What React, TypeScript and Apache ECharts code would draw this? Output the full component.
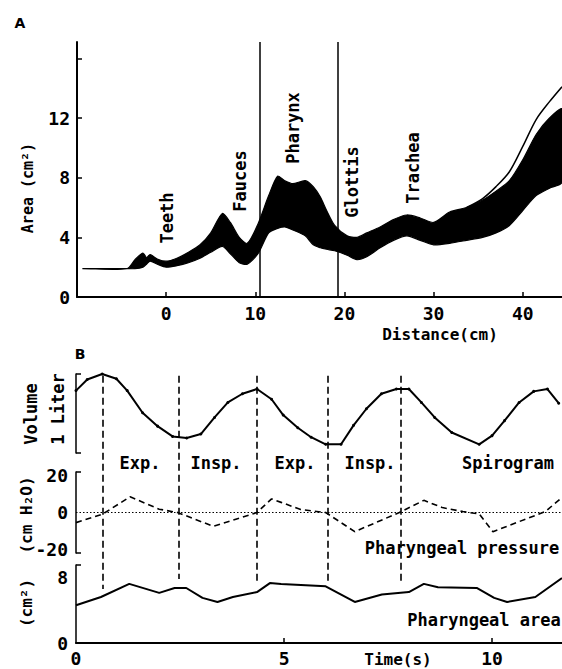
import React, { useEffect, useRef } from "react";
import * as echarts from "echarts";

// ---------- Panel A: cross-sectional area along the airway ----------
const distanceCm = [-9.4, -4.4, -3.5, -2.6, -2.2, -1.8, -1, 0, 1.2, 2.5, 3.8, 5, 6.3, 7.2, 8.2, 9.1, 10.3, 11.5, 12.5, 13.3, 14.2, 15.6, 16.5, 17.3, 18, 18.9, 20.3, 21.4, 22.5, 24, 25.5, 27, 28.5, 30, 31.8, 33.7, 35.5, 37, 38.5, 40, 41.5, 43, 44.4];
const areaUpper = [1.9, 1.9, 2.5, 2.95, 2.65, 2.85, 2.55, 2.4, 2.6, 3.0, 3.5, 4.3, 5.6, 5.0, 4.0, 3.6, 4.9, 6.8, 8.1, 7.8, 7.6, 7.8, 7.4, 6.7, 5.8, 4.8, 4.1, 4.0, 4.3, 4.7, 5.2, 5.5, 5.3, 5.0, 5.7, 6.0, 6.5, 7.1, 7.8, 9.2, 10.9, 12.0, 12.6];
const areaLower = [1.9, 1.9, 1.9, 2.0, 2.2, 2.4, 2.2, 2.0, 2.1, 2.3, 2.6, 3.0, 3.4, 2.9, 2.3, 2.2, 2.9, 4.3, 4.6, 4.7, 4.5, 4.1, 3.5, 3.3, 3.2, 3.1, 2.8, 2.5, 2.7, 3.3, 3.8, 4.1, 3.8, 3.5, 3.6, 3.8, 4.0, 4.3, 4.8, 5.8, 6.8, 7.3, 7.7];
const topCurveCm = [33.7, 35.5, 37, 38.5, 40, 41.5, 43, 44.4];
const topCurveArea = [6.0, 6.6, 7.4, 8.4, 10.1, 11.9, 13.1, 14.1];
const regionBoundariesCm = [10.5, 19.2];
const distanceTicks = [0, 10, 20, 30, 40];
const areaTicksA = [0, 4, 8, 12];
const areaTickMarksA = [4, 8, 12, 16];
const regionLabels = ["Teeth", "Fauces", "Pharynx", "Glottis", "Trachea"];

// ---------- Panel B: time courses ----------
const volumeTime = [0, 0.27, 0.63, 0.97, 1.23, 1.6, 1.96, 2.32, 2.66, 3.0, 3.33, 3.65, 4.0, 4.35, 4.7, 4.98, 5.33, 5.65, 6.0, 6.37, 6.67, 6.98, 7.34, 7.7, 8.0, 8.3, 8.62, 9.03, 9.69, 10.0, 10.3, 10.65, 11.0, 11.33, 11.6];
const volumeLiter = [0.79, 0.93, 1.0, 0.94, 0.79, 0.51, 0.34, 0.21, 0.19, 0.24, 0.45, 0.64, 0.75, 0.81, 0.68, 0.48, 0.32, 0.2, 0.11, 0.11, 0.35, 0.56, 0.75, 0.81, 0.81, 0.64, 0.45, 0.26, 0.11, 0.22, 0.41, 0.64, 0.78, 0.81, 0.63];
const pressureTime = [0, 0.63, 1.3, 2.0, 2.44, 3.3, 4.35, 4.7, 4.93, 5.4, 6.0, 6.7, 7.77, 8.36, 8.8, 9.3, 9.69, 10.02, 11.28, 11.68];
const pressureCmH2O = [-5.5, -1, 8.5, 1.8, 0, -7.5, 0, 7.4, 5.5, 1.6, 0, -10.4, 0, 6.6, 2.7, 0.5, -0.8, -10.4, 0.5, 8.2];
const pharAreaTime = [0, 0.6, 1.28, 2.0, 2.37, 2.65, 3.04, 3.4, 3.77, 4.35, 4.66, 4.93, 6.0, 6.7, 7.35, 8.0, 8.36, 8.7, 9.63, 10.05, 10.36, 11.04, 11.68];
const pharAreaCm2 = [4.6, 5.6, 7.2, 6.1, 6.7, 6.7, 5.5, 5.0, 5.6, 6.2, 7.3, 7.2, 6.9, 5.0, 5.9, 6.2, 7.2, 6.8, 6.7, 5.5, 5.0, 5.6, 7.9];
const phaseTimes = [0.65, 2.46, 4.35, 6.04, 7.8];
const phaseLineBottomCm2 = [6.6, 7.8, 7.6, 7.6, 7.6];
const phaseLineTopCm2 = 32.6;
const phaseLabels = ["Exp.", "Insp.", "Exp.", "Insp."];
const timeTicks = [0, 5, 10];
const pressureTicks = [-20, 0, 20];
const pharAreaTicks = [0, 8];

const MONO = "DejaVu Sans Mono";
const BLACK = "#000";

function zip(a: number[], b: number[]) {
  return a.map((x, i) => [x, b[i]]);
}

function label(text: string, x: number, y: number, size = 17, rot = 0, family = MONO) {
  return {
    type: "text",
    x,
    y,
    rotation: rot,
    silent: true,
    style: {
      text,
      fill: BLACK,
      font: `bold ${size}px "${family}"`,
      align: "center",
      verticalAlign: "middle",
      textAlign: "center",
      textVerticalAlign: "middle",
    },
  };
}

const tickFont = { fontFamily: MONO, fontWeight: "bold", fontSize: 18, color: BLACK };

export default function App() {
  const ref = useRef<HTMLDivElement>(null);
  useEffect(() => {
    document.body.style.margin = "0";
    if (!ref.current) return;
    const chart = echarts.init(ref.current, undefined, { renderer: "svg" });
    const tMax = 11.68;
    const R = Math.PI / 2;

    const option: any = {
      animation: false,
      backgroundColor: "#fff",
      grid: [
        { left: 77, top: 42, width: 485, height: 255 },
        { left: 76, top: 374, width: 486, height: 79 },
        { left: 76, top: 472, width: 486, height: 81 },
        { left: 76, top: 565, width: 486, height: 78 },
        { left: 76, top: 373, width: 486, height: 270 },
      ],
      xAxis: [
        {
          gridIndex: 0, type: "value", min: -10, max: 44.4,
          axisLine: { show: true, onZero: false, lineStyle: { color: BLACK, width: 2 } },
          axisTick: { show: true, inside: true, length: 5, customValues: distanceTicks, lineStyle: { color: BLACK, width: 1.5 } },
          axisLabel: { customValues: distanceTicks, margin: 7, ...tickFont },
          splitLine: { show: false },
        },
        { gridIndex: 1, type: "value", min: 0, max: tMax, show: false },
        { gridIndex: 2, type: "value", min: 0, max: tMax, show: false },
        {
          gridIndex: 3, type: "value", min: 0, max: tMax,
          axisLine: { show: true, onZero: false, lineStyle: { color: BLACK, width: 2 } },
          axisTick: { show: true, inside: true, length: 5, customValues: [5, 10], lineStyle: { color: BLACK, width: 1.5 } },
          axisLabel: { customValues: timeTicks, margin: 6, ...tickFont },
          splitLine: { show: false },
        },
        { gridIndex: 4, type: "value", min: 0, max: tMax, show: false },
      ],
      yAxis: [
        {
          gridIndex: 0, type: "value", min: 0, max: 17.1,
          axisLine: { show: true, onZero: false, lineStyle: { color: BLACK, width: 2 } },
          axisTick: { show: true, inside: true, length: 5, customValues: areaTickMarksA, lineStyle: { color: BLACK, width: 1.5 } },
          axisLabel: { customValues: areaTicksA, margin: 7, ...tickFont },
          splitLine: { show: false },
        },
        {
          gridIndex: 1, type: "value", min: 0, max: 1,
          axisLine: { show: true, onZero: false, lineStyle: { color: BLACK, width: 1.5 } },
          axisTick: { show: true, inside: true, length: 5, customValues: [0, 1], lineStyle: { color: BLACK, width: 1.5 } },
          axisLabel: { show: false },
          splitLine: { show: false },
        },
        {
          gridIndex: 2, type: "value", min: -22, max: 22,
          axisLine: { show: true, onZero: false, lineStyle: { color: BLACK, width: 1.5 } },
          axisTick: { show: true, inside: true, length: 5, customValues: [-22, 22], lineStyle: { color: BLACK, width: 1.5 } },
          axisLabel: { customValues: pressureTicks, margin: 8, ...tickFont },
          splitLine: { show: false },
        },
        {
          gridIndex: 3, type: "value", min: 0, max: 9.5,
          axisLine: { show: true, onZero: false, lineStyle: { color: BLACK, width: 1.5 } },
          axisTick: { show: true, inside: true, length: 5, customValues: [9.5], lineStyle: { color: BLACK, width: 1.5 } },
          axisLabel: { customValues: pharAreaTicks, margin: 8, ...tickFont },
          splitLine: { show: false },
        },
        { gridIndex: 4, type: "value", min: 0, max: 32.93, show: false },
      ],
      series: [
        {
          type: "custom", xAxisIndex: 0, yAxisIndex: 0, silent: true, clip: true,
          data: distanceCm.map((d, i) => [d, areaUpper[i], areaLower[i]]),
          encode: { x: 0, y: [1, 2] },
          renderItem: (params: any, api: any) => {
            if (params.dataIndex !== 0) return null;
            const up = distanceCm.map((d, i) => api.coord([d, areaUpper[i]]));
            const lo = distanceCm.map((d, i) => api.coord([d, areaLower[i]])).reverse();
            return {
              type: "polygon",
              shape: { points: up.concat(lo), smooth: 0.25 },
              style: { fill: BLACK, stroke: BLACK, lineWidth: 1.2 },
            };
          },
        },
        {
          type: "line", xAxisIndex: 0, yAxisIndex: 0, smooth: 0.3,
          data: zip(topCurveCm, topCurveArea), symbol: "none",
          lineStyle: { color: BLACK, width: 1.5 },
          markLine: {
            silent: true, symbol: "none", label: { show: false },
            lineStyle: { color: BLACK, width: 1.5, type: "solid" },
            data: regionBoundariesCm.map((x) => ({ xAxis: x })),
          },
        },
        {
          type: "line", xAxisIndex: 1, yAxisIndex: 1,
          data: zip(volumeTime, volumeLiter), symbol: "circle", symbolSize: 3, showSymbol: true,
          itemStyle: { color: BLACK }, lineStyle: { color: BLACK, width: 2 },
        },
        {
          type: "line", xAxisIndex: 2, yAxisIndex: 2,
          data: zip(pressureTime, pressureCmH2O), symbol: "none",
          lineStyle: { color: BLACK, width: 1.6, type: [6, 4] },
          markLine: {
            silent: true, symbol: "none", label: { show: false },
            lineStyle: { color: BLACK, width: 1, type: [1.5, 2] },
            data: [{ yAxis: 0 }],
          },
        },
        {
          type: "line", xAxisIndex: 3, yAxisIndex: 3,
          data: zip(pharAreaTime, pharAreaCm2), symbol: "none",
          lineStyle: { color: BLACK, width: 2 },
        },
        {
          type: "line", xAxisIndex: 4, yAxisIndex: 4,
          data: [[0, 0]], symbol: "none", lineStyle: { opacity: 0 },
          markLine: {
            silent: true, symbol: "none", label: { show: false },
            lineStyle: { color: BLACK, width: 1.6, type: [7, 4] },
            data: phaseTimes.map((t, i) => [
              { coord: [t, phaseLineTopCm2] },
              { coord: [t, phaseLineBottomCm2[i]] },
            ]),
          },
        },
      ],
      graphic: [
        label("A", 20, 23, 14, 0, "DejaVu Sans"),
        label("B", 80, 354, 14, 0, "DejaVu Sans"),
        label("Area (cm²)", 28, 188, 15, R),
        label(regionLabels[0], 167, 218, 17, R),
        label(regionLabels[1], 240, 181, 17, R),
        label(regionLabels[2], 293, 128, 17, R),
        label(regionLabels[3], 352, 182, 17, R),
        label(regionLabels[4], 413, 168, 17, R),
        label("Distance(cm)", 440, 334, 16),
        label("Volume", 31, 414, 17, R),
        label("1 Liter", 58, 409, 17, R),
        label(phaseLabels[0], 140, 463, 17),
        label(phaseLabels[1], 216, 463, 17),
        label(phaseLabels[2], 295, 463, 17),
        label(phaseLabels[3], 370, 463, 17),
        label("Spirogram", 508, 463, 17),
        label("(cm H₂O)", 26, 515, 16, R),
        label("Pharyngeal pressure", 462, 548, 17),
        label("(cm²)", 26, 603, 16, R),
        label("Pharyngeal area", 484, 620, 17),
        label("Time(s)", 398, 659, 16),
      ],
    };
    chart.setOption(option);
    return () => chart.dispose();
  }, []);
  return <div ref={ref} style={{ width: 562, height: 669 }} />;
}
